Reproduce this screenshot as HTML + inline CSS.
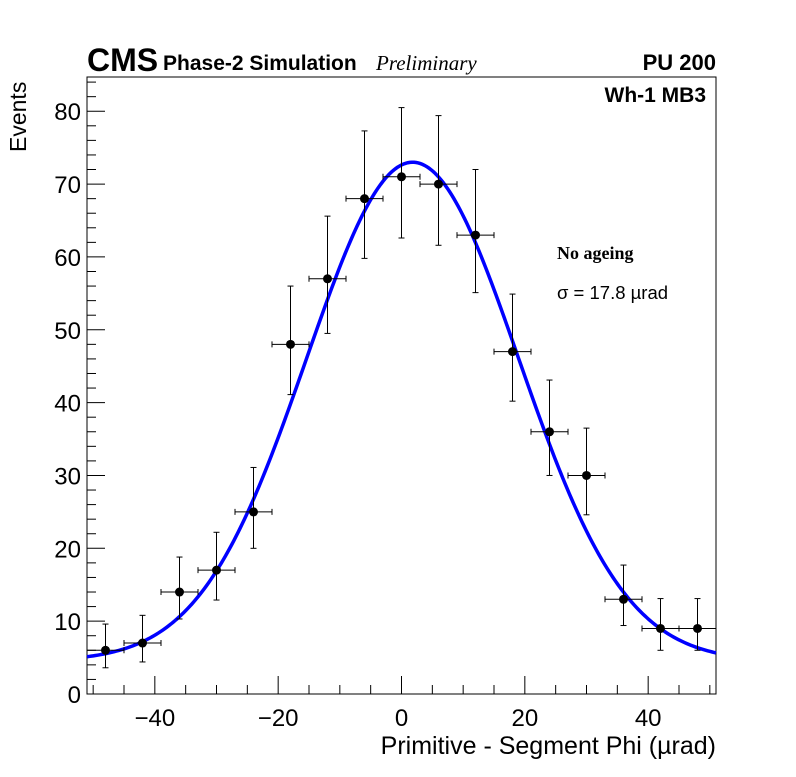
<!DOCTYPE html>
<html><head><meta charset="utf-8"><style>
body{margin:0;background:#fff;}
svg text{font-family:"Liberation Sans",sans-serif;}
</style></head><body>
<svg id="c" width="796" height="772" xmlns="http://www.w3.org/2000/svg">
<rect width="796" height="772" fill="#fff"/>
<rect x="87" y="77" width="629" height="617" fill="none" stroke="#000" stroke-width="1"/>
<g id="axes"></g>
<g id="fit"></g>
<g id="pts"></g>
<text x="87" y="71" font-size="32" font-weight="bold">CMS</text>
<text x="163" y="70" font-size="21" font-weight="bold">Phase-2 Simulation</text>
<text x="376" y="70" font-size="21" font-style="italic" style="font-family:'Liberation Serif',serif">Preliminary</text>
<text x="716" y="70" font-size="22" font-weight="bold" text-anchor="end">PU 200</text>
<text x="706" y="102" font-size="21" font-weight="bold" text-anchor="end">Wh-1 MB3</text>
<text x="557" y="259" font-size="18" font-weight="bold" style="font-family:'Liberation Serif',serif">No ageing</text>
<text x="557" y="299" font-size="18.5">σ = 17.8 µrad</text>
<text x="716" y="754" font-size="25" text-anchor="end">Primitive - Segment Phi (µrad)</text>
<text transform="translate(26,152) rotate(-90)" font-size="23">Events</text>
</svg>
<script>
const binCenters=[-48,-42,-36,-30,-24,-18,-12,-6,0,6,12,18,24,30,36,42,48];
const counts=[6,7,14,17,25,48,57,68,71,70,63,47,36,30,13,9,9];
const errLow=[2.4,2.6,3.7,4.1,5.0,6.9,7.5,8.2,8.4,8.4,7.9,6.8,6.0,5.4,3.6,3.0,3.0];
const errHigh=[3.6,3.8,4.8,5.2,6.1,8.0,8.6,9.3,9.5,9.4,9.0,7.9,7.1,6.5,4.7,4.1,4.1];
const binWidth=6;
const fitParams=[4.5,68.5,1.8,17.2]; // baseline, amplitude, mean, sigma
const xTicks=[-40,-20,0,20,40];
const yTicks=[0,10,20,30,40,50,60,70,80];
const X0=-51,X1=51,Y0=0,Y1=84.7;
const L=87,R=716,T=77,B=694;
const sx=v=>L+(v-X0)/(X1-X0)*(R-L);
const sy=v=>B-(v-Y0)/(Y1-Y0)*(B-T);
const NS="http://www.w3.org/2000/svg";
function mk(tag,attrs,parent){const e=document.createElementNS(NS,tag);for(const k in attrs)e.setAttribute(k,attrs[k]);parent.appendChild(e);return e;}
const ax=document.getElementById('axes');
for(let v=-50;v<=50;v+=5){const big=v%20===0;const l=mk('line',{x1:sx(v),x2:sx(v),y1:B,y2:B-(big?18:9),stroke:'#000'},ax);

}
for(let v=0;v<=84;v+=2){const big=v%10===0;const l=mk('line',{x1:L,x2:L+(big?18:9),y1:sy(v),y2:sy(v),stroke:'#000'},ax);

}
xTicks.forEach(v=>{const t=mk('text',{x:sx(v),y:726,'font-size':24,'text-anchor':'middle'},ax);t.textContent=(v<0?'\u2212'+(-v):v);

});
yTicks.forEach(v=>{const t=mk('text',{x:81,y:sy(v)+9,'font-size':24,'text-anchor':'end'},ax);t.textContent=v;

});
const [b,a,m,s]=fitParams;let d='';
for(let i=0;i<=300;i++){const x=X0+(X1-X0)*i/300;const y=b+a*Math.exp(-(x-m)*(x-m)/(2*s*s));d+=(i?'L':'M')+sx(x).toFixed(2)+','+sy(y).toFixed(2);}
const fp=mk('path',{d:d,fill:'none',stroke:'#0000ff','stroke-width':3.5},document.getElementById('fit'));


const pg=document.getElementById('pts');
binCenters.forEach((c,i)=>{
const g=mk('g',{},pg);


const x=sx(c),y=sy(counts[i]),xl=sx(c-binWidth/2),xr=sx(c+binWidth/2),yl=sy(counts[i]-errLow[i]),yh=sy(counts[i]+errHigh[i]);
mk('line',{x1:xl,x2:xr,y1:y,y2:y,stroke:'#000'},g);
mk('line',{x1:x,x2:x,y1:yl,y2:yh,stroke:'#000'},g);
mk('line',{x1:xl,x2:xl,y1:y-3,y2:y+3,stroke:'#000'},g);
mk('line',{x1:xr,x2:xr,y1:y-3,y2:y+3,stroke:'#000'},g);
mk('line',{x1:x-3,x2:x+3,y1:yl,y2:yl,stroke:'#000'},g);
mk('line',{x1:x-3,x2:x+3,y1:yh,y2:yh,stroke:'#000'},g);
mk('circle',{cx:x,cy:y,r:4.5,fill:'#000'},g);
});
</script>
</body></html>
